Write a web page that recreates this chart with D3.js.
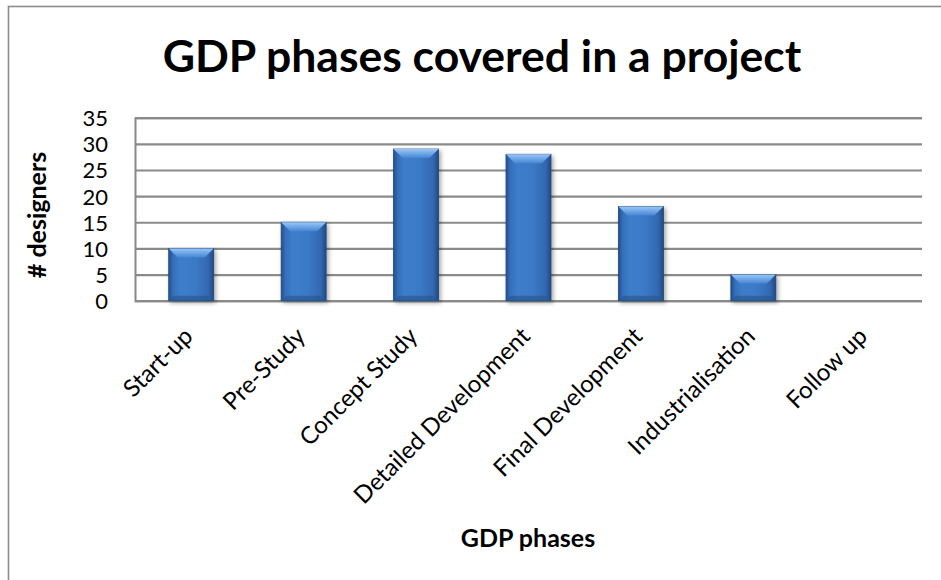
<!DOCTYPE html>
<html>
<head>
<meta charset="utf-8">
<script src="https://cdn.jsdelivr.net/npm/d3@7"></script>
<style>
  html, body { margin: 0; padding: 0; background: #fff; }
  svg { display: block; }
  text { font-family: Lato, "Open Sans", sans-serif; fill: #000; }
</style>
</head>
<body>
<svg id="chart" width="941" height="580"></svg>
<script>
// Phases of the GDP process and how many designers covered each one
const phases = ["Start-up", "Pre-Study", "Concept Study", "Detailed Development",
                "Final Development", "Industrialisation", "Follow up"];
const designers = [10, 15, 29, 28, 18, 5, 0];
const yTicks = [0, 5, 10, 15, 20, 25, 30, 35];

const chartTitle = "GDP phases covered in a project";
const xTitle = "GDP phases";
const yTitle = "# designers";

const svg = d3.select("#chart");
const plot = { left: 135, right: 922, top: 117.7, bottom: 300.7 };

const x = d3.scaleBand().domain(phases).range([plot.left, plot.right]).paddingInner(0.6).paddingOuter(0.3);
const y = d3.scaleLinear().domain([0, 35]).range([plot.bottom, plot.top]);

// Outer frame of the chart object
svg.append("rect")
  .attr("x", 8.5).attr("y", 6.5).attr("width", 1200).attr("height", 1200)
  .attr("fill", "none").attr("stroke", "#8c8c8c").attr("stroke-width", 1.6);

const defs = svg.append("defs");
const body = defs.append("linearGradient").attr("id", "barBody").attr("x1", 0).attr("x2", 1).attr("y1", 0).attr("y2", 0);
[[0, "#24508c"], [0.1, "#3570ba"], [0.25, "#3d7dca"], [0.6, "#3b79c6"], [0.88, "#3368b0"], [1, "#214a82"]]
  .forEach(([o, c]) => body.append("stop").attr("offset", o).attr("stop-color", c));
const topBevel = defs.append("linearGradient").attr("id", "barTop").attr("x1", 0).attr("x2", 0).attr("y1", 0).attr("y2", 1);
[[0, "#9cc6f5"], [0.5, "#6ea6e8"], [1, "#4785d2"]]
  .forEach(([o, c]) => topBevel.append("stop").attr("offset", o).attr("stop-color", c));
const shadow = defs.append("filter").attr("id", "barShadow").attr("x", "-20%").attr("y", "-20%").attr("width", "150%").attr("height", "140%");
shadow.append("feDropShadow").attr("dx", 2).attr("dy", 2).attr("stdDeviation", 2).attr("flood-color", "#000").attr("flood-opacity", 0.35);

// Horizontal gridlines and axis lines
const yAxis = d3.axisLeft(y).tickValues(yTicks).tickSize(-(plot.right - plot.left)).tickPadding(27);
const gy = svg.append("g").attr("transform", `translate(${plot.left},0)`).call(yAxis);
gy.select(".domain").attr("stroke", "#878787").attr("stroke-width", 2);
gy.selectAll(".tick line").attr("stroke", "#8a8a8a").attr("stroke-width", 2.2);
gy.selectAll(".tick text").attr("font-size", 22).attr("fill", "#000")
  .attr("x", -27).attr("dy", "0.36em");

// Bars with a bevelled top edge
const bars = svg.append("g").selectAll("g").data(phases.map((p, i) => ({ p, v: designers[i] })))
  .join("g").filter(d => d.v > 0);
bars.append("rect")
  .attr("x", d => x(d.p)).attr("y", d => y(d.v))
  .attr("width", x.bandwidth()).attr("height", d => y(0) - y(d.v))
  .attr("fill", "url(#barBody)").attr("stroke", "#1f4677").attr("stroke-width", 0.8)
  .attr("filter", "url(#barShadow)");
bars.append("path")
  .attr("d", d => {
    const x0 = x(d.p), x1 = x0 + x.bandwidth(), t = y(d.v), b = Math.min(9, (y(0) - y(d.v)) / 2);
    return `M${x0},${t}L${x1},${t}L${x1 - b},${t + b}L${x0 + b},${t + b}Z`;
  })
  .attr("fill", "url(#barTop)");
bars.append("path")
  .attr("d", d => {
    const x0 = x(d.p), x1 = x0 + x.bandwidth(), t = y(d.v), bt = y(0), b = Math.min(5, (bt - t) / 3);
    return `M${x0},${bt}L${x1},${bt}L${x1 - b},${bt - b}L${x0 + b},${bt - b}Z`;
  })
  .attr("fill", "#2a5896").attr("opacity", 0.7);

// Category labels, rotated
svg.append("g").selectAll("text").data(phases).join("text")
  .attr("transform", d => `translate(${x(d) + x.bandwidth() / 2 + 3},${plot.bottom + 37}) rotate(-45)`)
  .attr("text-anchor", "end").attr("font-size", 24)
  .text(d => d);

// Titles
svg.append("text").attr("x", 482).attr("y", 72).attr("text-anchor", "middle")
  .attr("font-size", 44.5).attr("font-weight", 700).text(chartTitle);
svg.append("text").attr("x", 528).attr("y", 547).attr("text-anchor", "middle")
  .attr("font-size", 25).attr("font-weight", 700).text(xTitle);
svg.append("text").attr("transform", "translate(46,215) rotate(-90)").attr("text-anchor", "middle")
  .attr("font-size", 25).attr("font-weight", 700).text(yTitle);
</script>
</body>
</html>
